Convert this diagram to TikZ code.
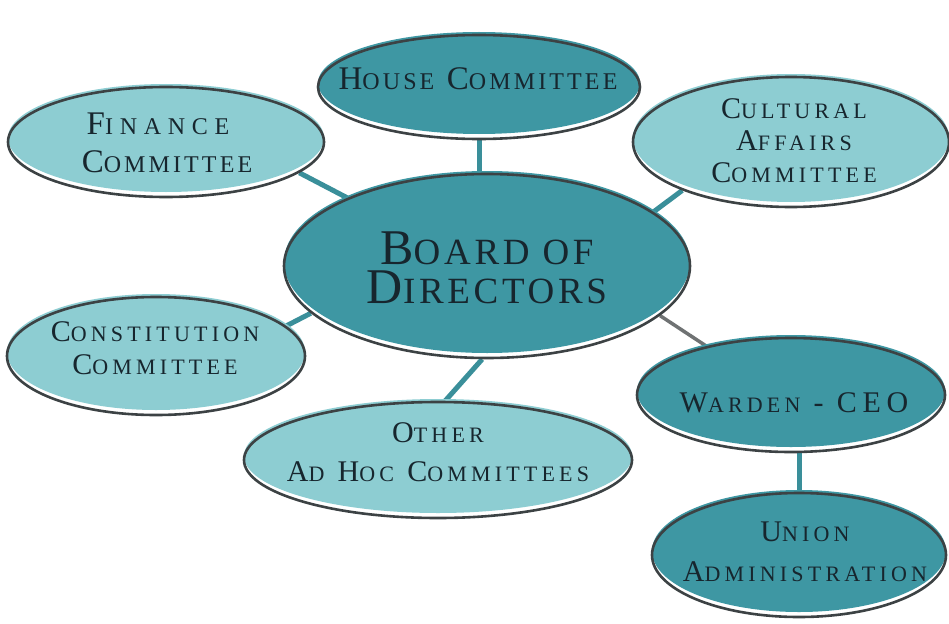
\documentclass[tikz,border=0pt]{standalone}
\usepackage{fontspec}
\usetikzlibrary{shapes.geometric}
\newfontfamily\lbfont{Liberation Serif}[LetterSpace=10]
\newfontfamily\lbmid{Liberation Serif}[LetterSpace=13]
\newfontfamily\lbsml{Liberation Serif}[LetterSpace=19]
\newfontfamily\lbwide{Liberation Serif}[LetterSpace=28]
\definecolor{tealD}{HTML}{3E97A3}
\definecolor{tealL}{HTML}{8DCDD2}
\definecolor{rim}{HTML}{3C4244}
\definecolor{link}{HTML}{3A8F9A}
\definecolor{linkG}{HTML}{6F7273}
\definecolor{ink}{HTML}{17262E}
\pgfdeclarelayer{bg}
\pgfdeclarelayer{fillz}
\pgfsetlayers{bg,fillz,main}
\def\capsz{32}\def\lowsz{24}
\newcommand\capfirst[2]{{\fontsize{\capsz}{0}\selectfont#1}{\fontsize{\lowsz}{0}\selectfont#2}}
\newcommand\bubble[6]{%
  \begin{pgfonlayer}{fillz}
    \fill[#6] (#2,#3-4) ellipse [x radius=#4, y radius=#5-1];
  \end{pgfonlayer}
  \node[rimshape, minimum width=2*#4, minimum height=2*#5] (#1) at (#2,#3) {};}
\begin{document}
\begin{tikzpicture}[x=1pt,y=-1pt,
  rimshape/.style={ellipse, draw=rim, line width=2.6pt, inner sep=0pt},
  lbl/.style={inner sep=0pt, align=center, text=ink},
  big/.style={font=\def\capsz{50}\def\lowsz{37}\lbfont\fontsize{50}{39}\selectfont},
  mid/.style={font=\def\capsz{33}\def\lowsz{24}\lbmid\fontsize{33}{38}\selectfont},
  sml/.style={font=\def\capsz{30}\def\lowsz{22}\lbsml\fontsize{30}{#1}\selectfont},
  lnk/.style={draw=link, line width=5pt},
  lnkg/.style={draw=linkG, line width=3.5pt}]
\begin{pgfonlayer}{bg}
\fill[white] (0,0) rectangle (949,623);
\end{pgfonlayer}
\useasboundingbox (0,0) rectangle (949,623);

\bubble{board}{487}{266}{203}{92}{tealD}
\bubble{house}{479}{87}{161}{52}{tealD}
\bubble{fin}{166}{142}{158}{55}{tealL}
\bubble{cult}{791}{142}{158}{65}{tealL}
\bubble{const}{156}{356}{149}{59}{tealL}
\bubble{other}{438}{460}{194}{58}{tealL}
\bubble{warden}{791}{395}{154}{57}{tealD}
\bubble{union}{799}{555}{147}{62}{tealD}

\node[lbl, big] (board-t) at (487,268) {\capfirst{B}{OARD OF}\\\capfirst{D}{IRECTORS}};
\node[lbl, mid] (house-t) at (478,79) {\capfirst{H}{OUSE} \capfirst{C}{OMMITTEE}};
\node[lbl, mid] (fin-t) at (167,143) {{\lbwide\capfirst{F}{INANCE}}\hspace*{18pt}\\\capfirst{C}{OMMITTEE}};
\node[lbl, sml=32] (cult-t) at (794,141) {\capfirst{C}{ULTURAL}\\\capfirst{A}{FFAIRS}\\\capfirst{C}{OMMITTEE}};
\node[lbl, sml=33] (const-t) at (155,348) {\capfirst{C}{ONSTITUTION}\\\capfirst{C}{OMMITTEE}};
\node[lbl, sml=39] (other-t) at (438,452) {\capfirst{O}{THER}\\\capfirst{A}{D} \capfirst{H}{OC} \capfirst{C}{OMMITTEES}};
\node[lbl, sml=32] (warden-t) at (794,403) {\capfirst{W}{ARDEN} - CEO};
\node[lbl, sml=40] (union-t) at (805,552) {\capfirst{U}{NION}\\\capfirst{A}{DMINISTRATION}};

\begin{pgfonlayer}{bg}
  \draw[lnk] (fin.-13) -- (board.154);
  \draw[lnk] (house.south) -- (house.south |- board.north);
  \draw[lnk] (cult.204) -- (board.18.6);
  \draw[lnk] (const.13.6) -- (board.195.7);
  \draw[lnk] (other.83) -- (board.267);
  \draw[lnkg] (board.-16.3) -- (warden.150.7);
  \draw[lnk] (union.north |- warden.south) -- (union.north);
\end{pgfonlayer}
\end{tikzpicture}
\end{document}
